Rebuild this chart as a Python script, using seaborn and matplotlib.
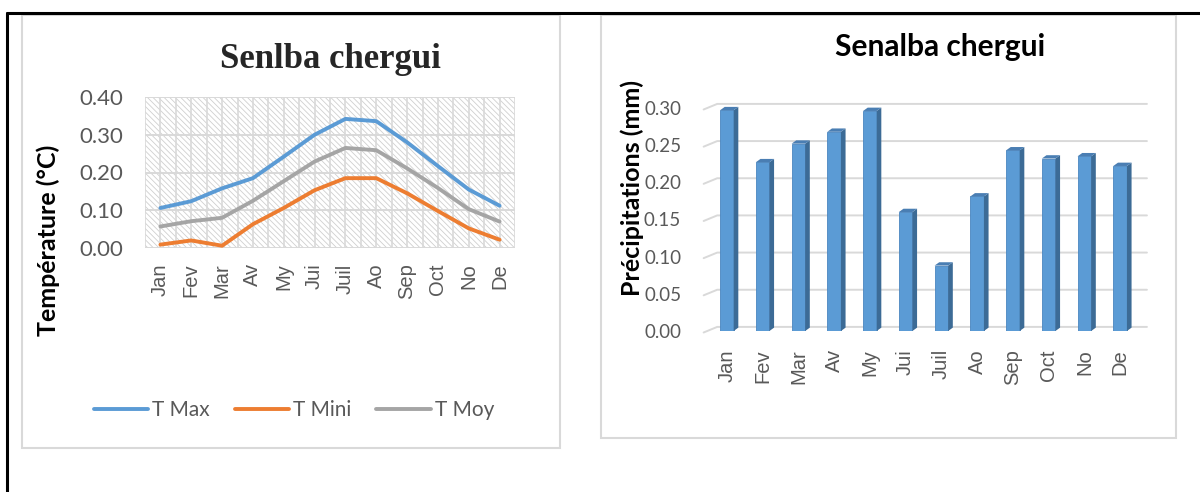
import numpy as np
import pandas as pd
import matplotlib
matplotlib.use("Agg")
import matplotlib.pyplot as plt
import matplotlib.patches as mpatches
import matplotlib.ticker as mtick
import seaborn as sns

# ─── DATA ─────────────────────────────────────────────────────────────────────
mois = ["Jan", "Fev", "Mar", "Av", "My", "Jui", "Juil", "Ao", "Sep", "Oct", "No", "De"]
t_max  = [0.106, 0.124, 0.158, 0.185, 0.242, 0.300, 0.342, 0.336, 0.280, 0.217, 0.155, 0.112]
t_mini = [0.009, 0.020, 0.006, 0.063, 0.106, 0.153, 0.185, 0.185, 0.145, 0.098, 0.052, 0.022]
t_moy  = [0.057, 0.071, 0.080, 0.125, 0.177, 0.229, 0.265, 0.259, 0.211, 0.159, 0.103, 0.070]
precip = [0.297, 0.227, 0.252, 0.268, 0.296, 0.160, 0.088, 0.181, 0.243, 0.232, 0.235, 0.222]

series_names = ["T Max", "T Mini", "T Moy"]
temp_ticks = [0.0, 0.1, 0.2, 0.3, 0.4]
precip_ticks = [0.0, 0.05, 0.10, 0.15, 0.20, 0.25, 0.30]

# ─── STYLE ────────────────────────────────────────────────────────────────────
sns.set_theme(style="white")
plt.rcParams["font.family"] = ["Lato", "DejaVu Sans"]
plt.rcParams["hatch.linewidth"] = 0.6
plt.rcParams["hatch.color"] = "#CFCFCF"

BLUE, ORANGE, GREY = "#5B9BD5", "#ED7D31", "#A5A5A5"
TXT = "#595959"
GRID = "#D9D9D9"

W, H = 1200, 492
fig = plt.figure(figsize=(W / 100, H / 100), dpi=100)
fig.patch.set_facecolor("white")


def fx(px):
    return px / W


def fy(py):
    return 1 - py / H


# outer black frame (top + left) and the two light chart boxes
fig.add_artist(plt.Line2D([fx(7), 1], [fy(13), fy(13)], color="black", lw=2.2))
fig.add_artist(plt.Line2D([fx(7), fx(7)], [fy(13), 0], color="black", lw=2.2))
fig.add_artist(mpatches.Rectangle((fx(22), fy(448)), fx(538), (448 - 15) / H,
                                  fill=False, ec=GRID, lw=1.5))
fig.add_artist(mpatches.Rectangle((fx(601), fy(438)), fx(575), (438 - 15) / H,
                                  fill=False, ec=GRID, lw=1.5))

# ══════════════════════════════════════════════════════════════════════════════
# LEFT — temperatures
# ══════════════════════════════════════════════════════════════════════════════
df_t = pd.DataFrame({"mois": mois * 3,
                     "valeur": t_max + t_mini + t_moy,
                     "serie": np.repeat(series_names, len(mois))})

ax1 = fig.add_axes([fx(145), fy(248), fx(370), 151 / H])
ax1.add_patch(mpatches.Rectangle((0, 0), 1, 1, transform=ax1.transAxes,
                                 facecolor="white", hatch="\\" * 6, edgecolor="#CFCFCF",
                                 lw=0, zorder=0))
sns.lineplot(data=df_t, x="mois", y="valeur", hue="serie", sort=False,
             palette=[BLUE, ORANGE, GREY], linewidth=2.8, legend=False, ax=ax1, zorder=3)
ax1.set_xlim(-0.5, len(mois) - 0.5)
ax1.set_ylim(0, 0.4)
ax1.set_yticks(temp_ticks)
ax1.yaxis.set_major_formatter(mtick.FormatStrFormatter("%.2f"))
for v in temp_ticks:
    ax1.axhline(v, color=GRID, lw=1.4, zorder=1)
for xv in np.arange(-0.5, len(mois), 0.5):
    ax1.axvline(xv, color=GRID, lw=1.2, zorder=1)
for s in ax1.spines.values():
    s.set_visible(False)
ax1.tick_params(axis="y", length=0, pad=16, labelsize=16, labelcolor=TXT)
ax1.tick_params(axis="x", length=0, pad=11, labelsize=14.5, labelcolor=TXT, rotation=90)
for lab in ax1.get_xticklabels():
    lab.set_fontfamily(["Liberation Sans", "DejaVu Sans"])
ax1.set_xlabel("")
ax1.set_ylabel("")
fig.text(fx(48), fy(240), "Température (°C)", rotation=90, ha="center", va="center",
         fontsize=18, fontweight="bold", color="black")
fig.text(fx(330), fy(60), "Senlba chergui", ha="center", va="center",
         fontsize=25, fontweight="bold", family=["Liberation Serif", "DejaVu Serif"])

handles = ax1.get_lines()[:3]
fig.legend(handles, series_names, loc="center", bbox_to_anchor=(fx(294), fy(410)),
           ncol=3, frameon=False, fontsize=15, labelcolor=TXT, handlelength=2.6,
           handletextpad=0.2, columnspacing=1.2)

# ══════════════════════════════════════════════════════════════════════════════
# RIGHT — precipitation (pseudo 3D bars)
# ══════════════════════════════════════════════════════════════════════════════
df_p = pd.DataFrame({"mois": mois, "precip": precip})
ax2 = fig.add_axes([fx(709), fy(331), fx(429), 223 / H])
sns.barplot(data=df_p, x="mois", y="precip", color=BLUE, saturation=1,
            width=0.38, ax=ax2, zorder=3)
ax2.set_xlim(-0.5, len(mois) - 0.5)
ax2.set_ylim(0, 0.30)
ax2.set_yticks(precip_ticks)
ax2.yaxis.set_major_formatter(mtick.FormatStrFormatter("%.2f"))

dx, dy = 0.13, 0.0045
for bar in ax2.patches:
    x0, x1 = bar.get_x(), bar.get_x() + bar.get_width()
    h = bar.get_height()
    bar.set_edgecolor("#4A86C0")
    bar.set_linewidth(0.6)
    side = mpatches.Polygon([(x1, 0), (x1 + dx, dy), (x1 + dx, h + dy), (x1, h)],
                            closed=True, fc="#3C6B96", ec="none", zorder=3, clip_on=False)
    top = mpatches.Polygon([(x0, h), (x0 + dx, h + dy), (x1 + dx, h + dy), (x1, h)],
                           closed=True, fc="#4A7EB3", ec="none", zorder=3, clip_on=False)
    ax2.add_patch(side)
    ax2.add_patch(top)

# back-wall gridlines, offset like an Excel 3-D column chart
gdx, gdy = 0.38, 0.0075
for v in precip_ticks:
    ax2.plot([-0.65, -0.65 + gdx, len(mois) - 0.5 + 0.25],
             [v - 0.002, v - 0.002 + gdy, v - 0.002 + gdy],
             color=GRID, lw=1.4, zorder=1, clip_on=False)
for s in ax2.spines.values():
    s.set_visible(False)
ax2.tick_params(axis="y", length=0, pad=20, labelsize=13.5, labelcolor=TXT)
ax2.tick_params(axis="x", length=0, pad=13, labelsize=14.5, labelcolor=TXT, rotation=90)
for lab in ax2.get_xticklabels():
    lab.set_fontfamily(["Liberation Sans", "DejaVu Sans"])
ax2.set_xlabel("")
ax2.set_ylabel("")
fig.text(fx(632), fy(188), "Précipitations (mm)", rotation=90, ha="center", va="center",
         fontsize=18, fontweight="bold", color="black")
fig.text(fx(940), fy(47), "Senalba chergui", ha="center", va="center",
         fontsize=21.5, fontweight="bold", color="black")

fig.savefig("out.png", dpi=100, facecolor="white")
